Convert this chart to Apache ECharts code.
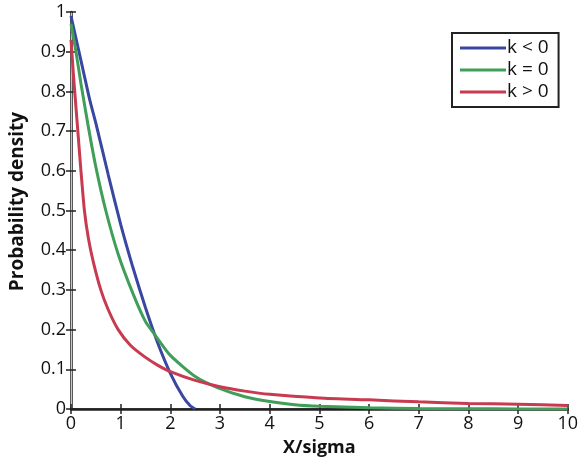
<!DOCTYPE html>
<html>
<head>
<meta charset="utf-8">
<script src="https://cdn.jsdelivr.net/npm/echarts@6/dist/echarts.min.js"></script>
<style>
html,body{margin:0;padding:0;background:#fff;}
#c{width:581px;height:463px;}
</style>
</head>
<body>
<div id="c"></div>
<script>
var seriesNames = ['k < 0', 'k = 0', 'k > 0'];
var xTicks = [0, 1, 2, 3, 4, 5, 6, 7, 8, 9, 10];
var yTicks = [0, 0.1, 0.2, 0.3, 0.4, 0.5, 0.6, 0.7, 0.8, 0.9, 1];

var xBlue = [0, 0.125, 0.25, 0.375, 0.5, 0.75, 1.0, 1.25, 1.5, 1.75, 2.0, 2.25, 2.4, 2.5];
var blue  = [0.99, 0.92, 0.85, 0.78, 0.72, 0.59, 0.465, 0.355, 0.255, 0.165, 0.09, 0.032, 0.008, 0];

var xGreen = [0, 0.1, 0.2, 0.35, 0.5, 0.7, 0.95, 1.25, 1.5, 1.7, 2.0, 2.5, 2.95, 3.5, 4.0, 4.5, 5.0, 6.0, 7.0, 8.0, 9.0, 10.0];
var green  = [0.97, 0.9, 0.82, 0.71, 0.61, 0.5, 0.39, 0.29, 0.22, 0.185, 0.135, 0.082, 0.054, 0.031, 0.019, 0.011, 0.007, 0.003, 0.0012, 0.0005, 0.0002, 0.0001];

var xRed = [0, 0.05, 0.1, 0.15, 0.2, 0.27, 0.35, 0.45, 0.6, 0.75, 0.95, 1.2, 1.5, 1.75, 2.0, 2.5, 3.0, 3.5, 4.0, 5.0, 6.0, 7.0, 8.0, 9.0, 10.0];
var red  = [0.93, 0.84, 0.76, 0.68, 0.6, 0.5, 0.43, 0.37, 0.3, 0.25, 0.2, 0.16, 0.13, 0.11, 0.094, 0.072, 0.056, 0.045, 0.037, 0.028, 0.023, 0.018, 0.014, 0.012, 0.009];

var colors = ['#3a47a0', '#3f9e58', '#c83a50'];

function pairs(xs, ys) {
  return xs.map(function (x, i) { return [x, ys[i]]; });
}

var chart = echarts.init(document.getElementById('c'), null, {renderer: 'canvas'});
var font = '"Open Sans", "DejaVu Sans", sans-serif';
var dark = '#222';

chart.setOption({
  animation: false,
  backgroundColor: '#fff',
  grid: {left: 68, right: 7, top: 12, bottom: 54, containLabel: false},
  legend: {
    orient: 'vertical',
    left: 452, top: 33,
    padding: [4, 10, 4, 8],
    icon: 'rect',
    itemWidth: 46, itemHeight: 3, itemGap: 0,
    borderColor: dark, borderWidth: 2,
    backgroundColor: '#fff',
    data: seriesNames,
    textStyle: {fontFamily: font, fontSize: 19, lineHeight: 22, color: '#111', padding: [0, 0, 0, -4]}
  },
  xAxis: [{
    type: 'value', min: xTicks[0], max: xTicks[xTicks.length - 1], interval: 1,
    position: 'bottom',
    name: 'X/sigma', nameLocation: 'middle', nameGap: 30,
    nameTextStyle: {fontFamily: font, fontSize: 18, fontWeight: 'bold', color: '#111'},
    axisLine: {lineStyle: {color: dark, width: 2.5}},
    axisTick: {inside: true, length: 5, lineStyle: {color: dark, width: 1.5}},
    axisLabel: {fontFamily: font, fontSize: 18, color: '#111', margin: 6, showMaxLabel: true},
    splitLine: {show: false}
  }, {
    type: 'value', min: 0, max: 10, interval: 1, position: 'top',
    axisLine: {lineStyle: {color: dark, width: 1.5}},
    axisTick: {inside: true, length: 5, lineStyle: {color: dark, width: 1.5}},
    axisLabel: {show: false}, splitLine: {show: false}
  }],
  yAxis: [{
    type: 'value', min: yTicks[0], max: yTicks[yTicks.length - 1], interval: 0.1,
    position: 'left',
    name: 'Probability density', nameLocation: 'middle', nameGap: 44,
    nameTextStyle: {fontFamily: font, fontSize: 19, fontWeight: 'bold', color: '#111', padding: [0, 0, 0, 18]},
    axisLine: {lineStyle: {color: dark, width: 2.5}},
    axisTick: {inside: true, length: 5, lineStyle: {color: dark, width: 1.5}},
    axisLabel: {fontFamily: font, fontSize: 18, color: '#111', margin: 5},
    splitLine: {show: false}
  }, {
    type: 'value', min: 0, max: 1, interval: 0.1, position: 'right',
    axisLine: {show: true, lineStyle: {color: '#c8c8c8', width: 1}},
    axisTick: {inside: true, length: 5, lineStyle: {color: dark, width: 1.5}},
    axisLabel: {show: false}, splitLine: {show: false}
  }],
  series: [
    {name: seriesNames[0], type: 'line', data: pairs(xBlue, blue), smooth: 0.2, symbol: 'none',
     lineStyle: {color: colors[0], width: 3}, itemStyle: {color: colors[0]}},
    {name: seriesNames[1], type: 'line', data: pairs(xGreen, green), smooth: 0.2, symbol: 'none',
     lineStyle: {color: colors[1], width: 3}, itemStyle: {color: colors[1]}},
    {name: seriesNames[2], type: 'line', data: pairs(xRed, red), smooth: 0.2, symbol: 'none',
     lineStyle: {color: colors[2], width: 3}, itemStyle: {color: colors[2]}}
  ]
});
</script>
</body>
</html>
